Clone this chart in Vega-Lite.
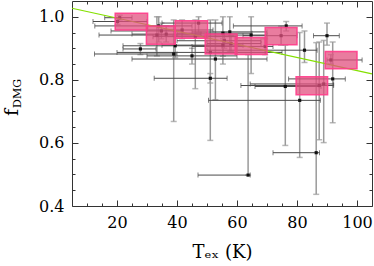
{
  "$schema": "https://vega.github.io/schema/vega-lite/v6.json",
  "width": 300,
  "height": 205,
  "autosize": {"type": "none"},
  "padding": {"left": 72, "top": 1, "right": 2, "bottom": 60},
  "config": {
    "view": {"stroke": null},
    "axis": {
      "labelFont": "DejaVu Serif", "titleFont": "DejaVu Serif",
      "domainColor": "#333", "tickColor": "#333", "labelColor": "#000", "titleColor": "#000",
      "grid": false, "labelFontSize": 16, "titleFontSize": 17, "titleFontWeight": "normal"
    }
  },
  "datasets": {
    "pts": [
      {"t": 20.9, "f": 0.997, "tlo": 15.9, "thi": 25, "flo": 0.99, "fhi": 1.005},
      {"t": 20.2, "f": 0.985, "tlo": 12, "thi": 30, "flo": 0.975, "fhi": 0.995},
      {"t": 33.9, "f": 0.971, "tlo": 12.6, "thi": 45, "flo": 0.92, "fhi": 1.0},
      {"t": 34.8, "f": 0.955, "tlo": 18, "thi": 42, "flo": 0.93, "fhi": 0.98},
      {"t": 33.3, "f": 0.942, "tlo": 14, "thi": 50, "flo": 0.876, "fhi": 1.0},
      {"t": 36.4, "f": 0.945, "tlo": 25, "thi": 48, "flo": 0.92, "fhi": 0.97},
      {"t": 38.9, "f": 0.882, "tlo": 12.5, "thi": 40, "flo": 0.668, "fhi": 0.99},
      {"t": 39.4, "f": 0.908, "tlo": 22, "thi": 55, "flo": 0.87, "fhi": 0.94},
      {"t": 41.7, "f": 0.958, "tlo": 30, "thi": 52, "flo": 0.93, "fhi": 0.99},
      {"t": 47.2, "f": 0.98, "tlo": 35, "thi": 55, "flo": 0.95, "fhi": 1.0},
      {"t": 46.1, "f": 0.937, "tlo": 32, "thi": 60, "flo": 0.772, "fhi": 0.99},
      {"t": 27.8, "f": 0.898, "tlo": 22, "thi": 33, "flo": 0.88, "fhi": 0.915},
      {"t": 45, "f": 0.876, "tlo": 30, "thi": 60, "flo": 0.85, "fhi": 0.9},
      {"t": 51.1, "f": 0.887, "tlo": 20, "thi": 75, "flo": 0.608, "fhi": 0.99},
      {"t": 52.8, "f": 0.866, "tlo": 25, "thi": 70, "flo": 0.737, "fhi": 0.99},
      {"t": 51.1, "f": 0.805, "tlo": 32.4, "thi": 56.7, "flo": 0.79, "fhi": 0.82},
      {"t": 55.3, "f": 0.948, "tlo": 40, "thi": 65, "flo": 0.875, "fhi": 1.0},
      {"t": 57.6, "f": 0.952, "tlo": 45, "thi": 70, "flo": 0.89, "fhi": 1.0},
      {"t": 55.8, "f": 0.924, "tlo": 40, "thi": 68, "flo": 0.9, "fhi": 0.95},
      {"t": 55.3, "f": 0.91, "tlo": 35, "thi": 62, "flo": 0.85, "fhi": 0.93},
      {"t": 58, "f": 0.915, "tlo": 50, "thi": 68, "flo": 0.89, "fhi": 0.94},
      {"t": 64.7, "f": 0.942, "tlo": 50, "thi": 70, "flo": 0.82, "fhi": 1.0},
      {"t": 69.4, "f": 0.906, "tlo": 45, "thi": 72, "flo": 0.88, "fhi": 0.93},
      {"t": 74.7, "f": 0.94, "tlo": 62, "thi": 80, "flo": 0.91, "fhi": 0.97},
      {"t": 76.4, "f": 0.971, "tlo": 58.8, "thi": 81.7, "flo": 0.955, "fhi": 0.985},
      {"t": 82.5, "f": 0.894, "tlo": 50, "thi": 86.7, "flo": 0.855, "fhi": 0.955},
      {"t": 90, "f": 0.94, "tlo": 85.5, "thi": 94.1, "flo": 0.91, "fhi": 0.98},
      {"t": 91.3, "f": 0.863, "tlo": 90, "thi": 101.7, "flo": 0.85, "fhi": 0.88},
      {"t": 76.1, "f": 0.779, "tlo": 66, "thi": 88, "flo": 0.592, "fhi": 0.91},
      {"t": 87.4, "f": 0.782, "tlo": 61.3, "thi": 92.2, "flo": 0.61, "fhi": 0.92},
      {"t": 88.9, "f": 0.787, "tlo": 64.4, "thi": 92.2, "flo": 0.601, "fhi": 0.925},
      {"t": 91.9, "f": 0.803, "tlo": 77.2, "thi": 96.1, "flo": 0.664, "fhi": 0.92},
      {"t": 80.9, "f": 0.735, "tlo": 50.5, "thi": 87.8, "flo": 0.554, "fhi": 0.95},
      {"t": 63.7, "f": 0.498, "tlo": 47, "thi": 64.4, "flo": 0.498, "fhi": 0.88},
      {"t": 86.4, "f": 0.569, "tlo": 72, "thi": 87.5, "flo": 0.437, "fhi": 0.918}
    ],
    "bins": [
      {"lo": 19.4, "hi": 30.2, "mlo": 0.958, "mhi": 1.011},
      {"lo": 29.8, "hi": 39.4, "mlo": 0.913, "mhi": 0.971},
      {"lo": 39.4, "hi": 50.2, "mlo": 0.932, "mhi": 0.987},
      {"lo": 49.4, "hi": 60, "mlo": 0.882, "mhi": 0.945},
      {"lo": 59.4, "hi": 70, "mlo": 0.88, "mhi": 0.934},
      {"lo": 69.4, "hi": 80, "mlo": 0.911, "mhi": 0.966},
      {"lo": 79.7, "hi": 90.2, "mlo": 0.753, "mhi": 0.81},
      {"lo": 89.4, "hi": 100, "mlo": 0.835, "mhi": 0.89}
    ],
    "fit": [
      {"t": 5, "f": 1.027},
      {"t": 105, "f": 0.819}
    ]
  },
  "layer": [
    {
      "data": {"name": "pts"},
      "mark": {"type": "errorbar", "color": "#9a9a9a", "thickness": 1.5, "ticks": {"size": 6}},
      "encoding": {
        "x": {"field": "t", "type": "quantitative", "scale": {"domain": [5, 105], "nice": false, "zero": false},
          "axis": {"orient": "top", "values": [10,15,20,25,30,35,40,45,50,55,60,65,70,75,80,85,90,95,100], "labels": false, "title": null,
            "tickSize": {"condition": {"test": "datum.value % 20 == 0", "value": -6}, "value": -3}}},
        "y": {"field": "flo", "type": "quantitative", "scale": {"domain": [0.4, 1.05], "nice": false, "zero": false},
          "axis": {"orient": "right", "values": [0.4,0.45,0.5,0.55,0.6,0.65,0.7,0.75,0.8,0.85,0.9,0.95,1.0], "labels": false, "title": null,
            "tickSize": {"condition": {"test": "round(datum.value*100) % 20 == 0", "value": -6}, "value": -3}}},
        "y2": {"field": "fhi"}
      }
    },
    {
      "data": {"name": "pts"},
      "mark": {"type": "errorbar", "color": "#4a4a4a", "thickness": 1, "ticks": {"size": 5}},
      "encoding": {
        "x": {"field": "tlo", "type": "quantitative", "scale": {"domain": [5, 105], "nice": false, "zero": false}, "axis": null},
        "x2": {"field": "thi"},
        "y": {"field": "f", "type": "quantitative", "scale": {"domain": [0.4, 1.05], "nice": false, "zero": false},
          "axis": {"orient": "left", "domain": false, "ticks": false, "labels": false, "title": "DMG", "titleFontSize": 11,
            "titleX": -52, "titleY": 92, "titleAngle": -90, "titleAlign": "center", "titleBaseline": "alphabetic"}}
      }
    },
    {
      "data": {"name": "pts"},
      "mark": {"type": "point", "filled": true, "shape": "square", "size": 10, "color": "#111", "opacity": 1},
      "encoding": {
        "x": {"field": "t", "type": "quantitative", "scale": {"domain": [5, 105], "nice": false, "zero": false}, "axis": null},
        "y": {"field": "f", "type": "quantitative", "scale": {"domain": [0.4, 1.05], "nice": false, "zero": false}, "axis": null}
      }
    },
    {
      "data": {"name": "fit"},
      "mark": {"type": "line", "color": "#84e000", "strokeWidth": 1.2},
      "encoding": {
        "x": {"field": "t", "type": "quantitative", "scale": {"domain": [5, 105], "nice": false, "zero": false}, "axis": null},
        "y": {"field": "f", "type": "quantitative", "scale": {"domain": [0.4, 1.05], "nice": false, "zero": false}, "axis": null}
      }
    },
    {
      "data": {"name": "bins"},
      "mark": {"type": "rect", "fill": "#e2507f", "fillOpacity": 0.75, "stroke": "#ff3d8b", "strokeWidth": 1.5, "strokeOpacity": 0.9},
      "encoding": {
        "x": {"field": "lo", "type": "quantitative", "scale": {"domain": [5, 105], "nice": false, "zero": false},
          "axis": {"orient": "bottom", "values": [10,15,20,25,30,35,40,45,50,55,60,65,70,75,80,85,90,95,100],
            "labelExpr": "datum.value % 20 == 0 ? datum.label : ''",
            "tickSize": {"condition": {"test": "datum.value % 20 == 0", "value": -6}, "value": -3},
            "labelPadding": 14, "labelFlush": false, "title": "Tₑₓ (K)", "titleFontSize": 18, "titlePadding": 13}},
        "x2": {"field": "hi"},
        "y": {"field": "mlo", "type": "quantitative", "scale": {"domain": [0.4, 1.05], "nice": false, "zero": false},
          "axis": {"orient": "left", "values": [0.4,0.45,0.5,0.55,0.6,0.65,0.7,0.75,0.8,0.85,0.9,0.95,1.0],
            "labelExpr": "round(datum.value*100) % 20 == 0 ? format(datum.value, '.1f') : ''",
            "tickSize": {"condition": {"test": "round(datum.value*100) % 20 == 0", "value": -6}, "value": -3},
            "labelPadding": 14, "labelFlush": false, "title": "f", "titleFontSize": 19,
            "titleX": -55, "titleY": 111, "titleAngle": -90, "titleAlign": "center", "titleBaseline": "alphabetic"}},
        "y2": {"field": "mhi"}
      }
    }
  ],
  "resolve": {"axis": {"x": "independent", "y": "independent"}}
}
